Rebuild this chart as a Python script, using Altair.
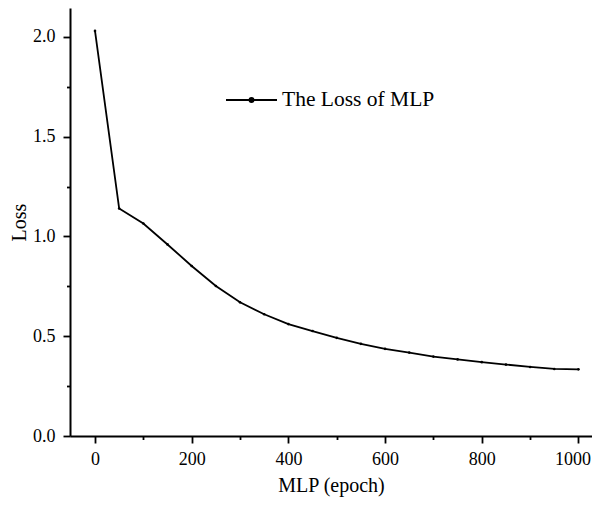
import altair as alt
import pandas as pd

epochs = [0, 50, 100, 150, 200, 250, 300, 350, 400, 450, 500,
          550, 600, 650, 700, 750, 800, 850, 900, 950, 1000]
loss = [2.03, 1.14, 1.065, 0.96, 0.852, 0.752, 0.670, 0.610, 0.561, 0.526, 0.492,
        0.462, 0.437, 0.418, 0.398, 0.384, 0.370, 0.358, 0.346, 0.336, 0.334]
series_name = "The Loss of MLP"
x_ticks = [0, 100, 200, 300, 400, 500, 600, 700, 800, 900, 1000]
y_ticks = [0, 0.25, 0.5, 0.75, 1.0, 1.25, 1.5, 1.75, 2.0]

df = pd.DataFrame({"epoch": epochs, "loss": loss, "series": [series_name] * len(epochs)})

FONT = "Liberation Serif"

x_major = "datum.value % 200 == 0"
y_major = "round(datum.value * 4) % 2 == 0"

legend_symbol = ("M-1,0H1M0.08,0A0.08,0.08,0,1,1,-0.08,0"
                 "A0.08,0.08,0,1,1,0.08,0Z")

chart = alt.Chart(df).mark_line(
    strokeWidth=1.8,
    point=alt.OverlayMarkDef(filled=True, size=7, color="black"),
).encode(
    x=alt.X("epoch:Q", title="MLP (epoch)",
            scale=alt.Scale(domain=[-51.7, 1028], nice=False, zero=False),
            axis=alt.Axis(values=x_ticks,
                          labelExpr=f"{x_major} ? format(datum.value, 'd') : ''",
                          labelOffset={"condition": {"test": "datum.value == 1000", "value": -6},
                                       "value": 0},
                          tickSize={"condition": {"test": x_major, "value": 7}, "value": 3.5},
                          labelPadding=7, titlePadding=7)),
    y=alt.Y("loss:Q", title="Loss",
            scale=alt.Scale(domain=[0, 2.145], nice=False),
            axis=alt.Axis(values=y_ticks, format=".1f",
                          labelExpr=f"{y_major} ? format(datum.value, '.1f') : ''",
                          tickSize={"condition": {"test": y_major, "value": 7}, "value": 3.5},
                          labelPadding=8, titlePadding=3)),
    color=alt.Color("series:N", scale=alt.Scale(range=["black"]),
                    legend=alt.Legend(title=None, orient="none", legendX=155, legendY=65.5,
                                      symbolType=legend_symbol, symbolSize=2601,
                                      symbolStrokeWidth=1.8, symbolFillColor="black",
                                      labelFontSize=21.5, labelFont=FONT, labelColor="black",
                                      labelOffset=4, padding=0)),
).properties(
    width=522, height=428,
    autosize=alt.AutoSizeParams(type="none"),
    padding={"left": 62, "top": 0, "right": 0, "bottom": 62},
).configure_view(stroke=None).configure_axis(
    grid=False, domainColor="black", domainWidth=2, tickColor="black", tickWidth=1.8,
    labelFont=FONT, labelFontSize=18, labelColor="black",
    titleFont=FONT, titleFontSize=20, titleColor="black", titleFontWeight="normal",
)

chart.save("out.html", embed_options={"renderer": "svg", "actions": False})
